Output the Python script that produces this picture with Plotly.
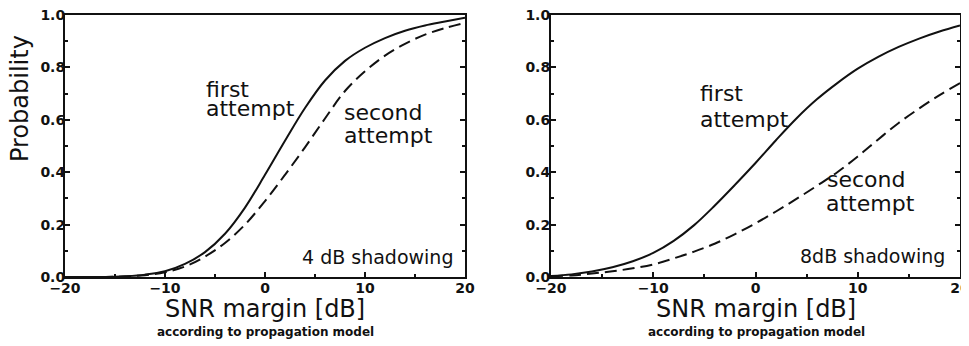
import plotly.graph_objects as go

snr = [-20, -18, -16, -14, -12, -10, -8, -6, -4, -2, 0, 2, 4, 6, 8, 10, 12, 14, 16, 18, 20]

# 4 dB shadowing
first_4db = [0.0, 0.0, 0.0, 0.003, 0.009, 0.022, 0.05, 0.095, 0.165, 0.265, 0.39, 0.52, 0.645, 0.75, 0.825, 0.875, 0.912, 0.94, 0.96, 0.975, 0.99]
second_4db = [0.0, 0.0, 0.0, 0.002, 0.007, 0.018, 0.04, 0.078, 0.13, 0.2, 0.29, 0.39, 0.495, 0.605, 0.71, 0.785, 0.845, 0.89, 0.925, 0.95, 0.97]

# 8 dB shadowing
first_8db = [0.004, 0.01, 0.021, 0.037, 0.06, 0.092, 0.138, 0.198, 0.272, 0.352, 0.435, 0.522, 0.605, 0.678, 0.74, 0.795, 0.84, 0.878, 0.91, 0.937, 0.96]
second_8db = [0.003, 0.006, 0.013, 0.022, 0.033, 0.048, 0.071, 0.097, 0.127, 0.164, 0.205, 0.25, 0.298, 0.348, 0.40, 0.46, 0.525, 0.588, 0.643, 0.694, 0.74]

x_ticks = [-20, -10, 0, 10, 20]
x_ticktext = ["\u221220", "\u221210", "0", "10", "20"]
y_ticks = [0.0, 0.2, 0.4, 0.6, 0.8, 1.0]

FONT = "DejaVu Sans"
TICKFONT = "DejaVu Sans"
INK = "#111111"
DASH = "12px,6px"

# The page body has an 8px margin; the figure is sized to fit the window after it.
W, H = 961, 338
OFF = 8

def px(v):
    return (v - OFF) / W

def py(v):
    return 1 - (v - OFF) / H

fig = go.Figure()
fig.add_trace(go.Scatter(x=snr, y=first_4db, mode="lines", line=dict(color=INK, width=2, shape="spline"), xaxis="x", yaxis="y"))
fig.add_trace(go.Scatter(x=snr, y=second_4db, mode="lines", line=dict(color=INK, width=2, dash=DASH, shape="spline"), xaxis="x", yaxis="y"))
fig.add_trace(go.Scatter(x=snr, y=first_8db, mode="lines", line=dict(color=INK, width=2, shape="spline"), xaxis="x2", yaxis="y2"))
fig.add_trace(go.Scatter(x=snr, y=second_8db, mode="lines", line=dict(color=INK, width=2, dash=DASH, shape="spline"), xaxis="x2", yaxis="y2"))

def xax(domain, anchor):
    return dict(domain=domain, anchor=anchor, range=[-20, 20], tickvals=x_ticks,
                ticktext=x_ticktext, automargin=False, ticklabeloverflow="allow",
                ticklabelstandoff=-3,
                ticks="inside", ticklen=5, tickwidth=2, tickcolor=INK,
                showline=True, linecolor=INK, linewidth=2, mirror=True,
                showgrid=False, zeroline=False,
                minor=dict(tickvals=[-15, -5, 5, 15], ticks="inside", ticklen=3, tickcolor=INK),
                tickfont=dict(family=TICKFONT, size=14, color=INK, weight="bold"))

def yax(anchor, standoff):
    return dict(domain=[py(277), py(15)], anchor=anchor, range=[0, 1], tickvals=y_ticks,
                tickformat=".1f", automargin=False, ticklabeloverflow="allow",
                ticklabelstandoff=standoff,
                ticks="inside", ticklen=5, tickwidth=2, tickcolor=INK,
                showline=True, linecolor=INK, linewidth=2, mirror="allticks",
                showgrid=False, zeroline=False,
                minor=dict(tickvals=[0.1, 0.3, 0.5, 0.7, 0.9], ticks="inside", ticklen=3, tickcolor=INK),
                tickfont=dict(family=TICKFONT, size=14, color=INK, weight="bold"))

annotations = []
def txt(x, y, text, xref, yref, size=22, xanchor="left", yanchor="middle", family=FONT):
    annotations.append(dict(x=x, y=y, xref=xref, yref=yref, text=text, showarrow=False,
                            xanchor=xanchor, yanchor=yanchor, align="left",
                            font=dict(family=family, size=size, color=INK)))

txt(-6.1, 0.715, "first", "x", "y")
txt(-6.1, 0.645, "attempt", "x", "y")
txt(7.7, 0.628, "second", "x", "y")
txt(7.7, 0.54, "attempt", "x", "y")
txt(19.0, 0.078, "4 dB shadowing", "x", "y", size=19, xanchor="right")

txt(-5.6, 0.70, "first", "x2", "y2")
txt(-5.6, 0.60, "attempt", "x2", "y2")
txt(6.8, 0.374, "second", "x2", "y2")
txt(6.7, 0.279, "attempt", "x2", "y2")
txt(18.7, 0.079, "8dB shadowing", "x2", "y2", size=19, xanchor="right")

# axis titles
for cx in (265, 756):
    txt(px(cx), py(309), "SNR margin [dB]", "paper", "paper", size=24, xanchor="center")
    txt(px(cx), py(332), "<b>according to propagation model</b>", "paper", "paper", size=12, xanchor="center")
annotations.append(dict(x=px(20), y=py(99), xref="paper", yref="paper", text="Probability",
                        showarrow=False, textangle=-90, xanchor="center", yanchor="middle",
                        font=dict(family=FONT, size=24, color=INK)))

fig.update_layout(
    width=W, height=H,
    margin=dict(l=0, r=0, t=0, b=0, pad=0, autoexpand=False),
    paper_bgcolor="white", plot_bgcolor="white",
    showlegend=False,
    xaxis=xax([px(65), px(465)], "y"),
    yaxis=yax("x", -5),
    xaxis2=xax([px(551), px(960)], "y2"),
    yaxis2=yax("x2", -4),
    annotations=annotations,
)

fig.write_html("out.html")
